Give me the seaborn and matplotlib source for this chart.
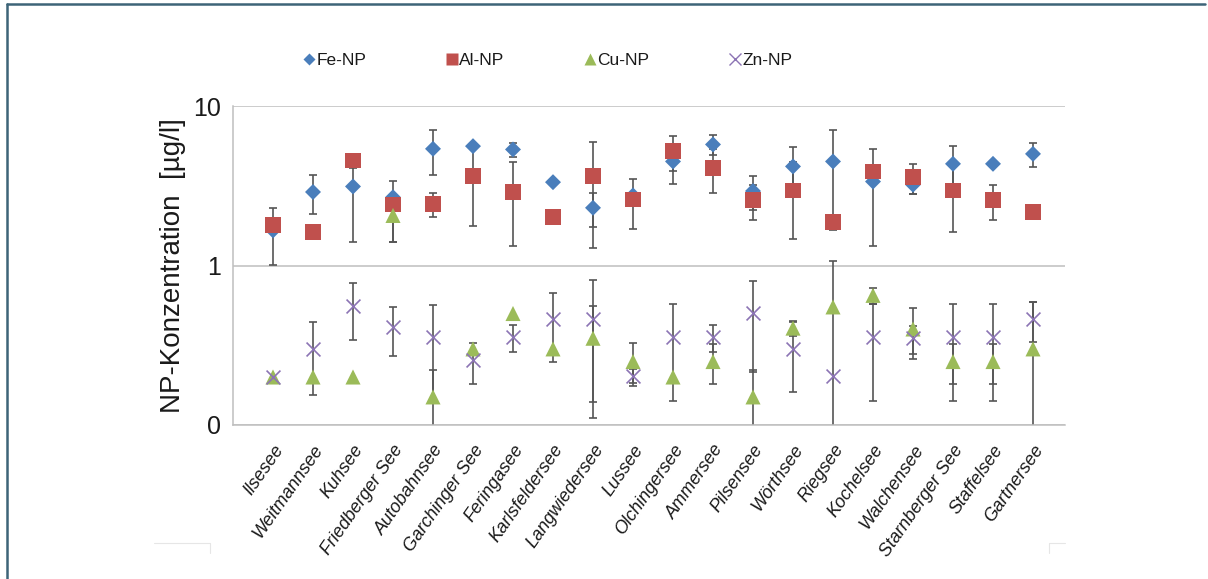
import numpy as np
import pandas as pd
import matplotlib
matplotlib.use("Agg")
import matplotlib.pyplot as plt
from matplotlib.lines import Line2D
from matplotlib.transforms import ScaledTranslation
from matplotlib.ticker import FixedLocator, NullLocator, FuncFormatter
import seaborn as sns

# --- data -------------------------------------------------------------
lakes = ["Ilsesee", "Weitmannsee", "Kuhsee", "Friedberger See", "Autobahnsee",
         "Garchinger See", "Feringasee", "Karlsfeldersee", "Langwiedersee", "Lussee",
         "Olchingersee", "Ammersee", "Pilsensee", "Wörthsee", "Riegsee",
         "Kochelsee", "Walchensee", "Starnberger See", "Staffelsee", "Gartnersee"]

fe = [1.66, 2.89, 3.13, 2.68, 5.39, 5.60, 5.34, 3.33, 2.30, 2.75,
      4.49, 5.74, 2.93, 4.18, 4.49, 3.36, 3.21, 4.34, 4.34, 5.01]
fe_err = [0.65, 0.79, 1.73, 0.00, 1.70, 0.00, 0.55, 0.00, 0.56, 0.00,
          1.24, 0.80, 0.70, 1.35, 2.63, 2.03, 0.42, 1.27, 0.00, 0.85]

al = [1.80, 1.62, 4.55, 2.41, 2.42, 3.64, 2.89, 2.01, 3.64, 2.59,
      5.21, 4.10, 2.56, 2.95, 1.87, 3.88, 3.58, 2.95, 2.56, 2.16]
al_err = [0.00, 0.00, 0.45, 1.00, 0.42, 1.87, 1.56, 0.00, 2.35, 0.90,
          1.32, 1.26, 0.63, 1.48, 0.20, 0.00, 0.76, 1.33, 0.63, 0.12]

cu = [0.20, 0.20, 0.20, 2.06, 0.15, 0.30, 0.50, 0.30, 0.35, 0.25,
      0.20, 0.25, 0.15, 0.405, 0.55, 0.65, 0.40, 0.25, 0.25, 0.30]
cu_err = [0.00, 0.00, 0.00, 0.65, 0.072, 0.00, 0.00, 0.00, 0.21, 0.075,
          0.00, 0.07, 0.072, 0.043, 0.51, 0.075, 0.14, 0.07, 0.07, 0.29]

zn = [0.20, 0.30, 0.56, 0.41, 0.356, 0.254, 0.356, 0.46, 0.46, 0.203,
      0.356, 0.356, 0.505, 0.30, 0.203, 0.356, 0.35, 0.356, 0.356, 0.46]
zn_err = [0.00, 0.145, 0.22, 0.14, 0.21, 0.074, 0.07, 0.21, 0.35, 0.02,
          0.215, 0.07, 0.29, 0.14, 0.00, 0.215, 0.07, 0.215, 0.215, 0.13]

elements = ["Fe-NP", "Al-NP", "Cu-NP", "Zn-NP"]
y_ticks = [0.1, 1, 10]

# --- styling ----------------------------------------------------------
colors = {"Fe-NP": "#4A7EBB", "Al-NP": "#C0504D", "Cu-NP": "#9BBB59", "Zn-NP": "#8C74B4"}
markers = {"Fe-NP": "D", "Al-NP": "s", "Cu-NP": "^", "Zn-NP": "x"}
sizes = {"Fe-NP": 66, "Al-NP": 130, "Cu-NP": 118, "Zn-NP": 100}

sns.set_theme(style="white")
plt.rcParams["font.family"] = ["Liberation Sans", "DejaVu Sans"]

x = np.arange(len(lakes))
frames = []
for name, vals, errs in zip(elements, [fe, al, cu, zn], [fe_err, al_err, cu_err, zn_err]):
    frames.append(pd.DataFrame({"pos": x, "lake": lakes, "element": name,
                                "value": vals, "err": errs}))
df = pd.concat(frames, ignore_index=True)

fig = plt.figure(figsize=(12.08, 5.79), dpi=100)
ax = fig.add_axes([233 / 1208, 1 - 425 / 579, (1065 - 233) / 1208, (425 - 106) / 579])
ax.set_yscale("log", nonpositive="clip")

# error bars first, markers on top
for name in elements:
    sub = df[(df.element == name) & (df.err > 0)]
    ax.errorbar(sub.pos, sub.value, yerr=sub.err, fmt="none", ecolor="#555555",
                elinewidth=1.2, capsize=2.7, capthick=1.2, zorder=2)

for i, name in enumerate(elements):
    sub = df[df.element == name]
    kw = dict(edgecolor="none") if markers[name] != "x" else dict(linewidth=1.2)
    sns.scatterplot(data=sub, x="pos", y="value", marker=markers[name],
                    color=colors[name], s=sizes[name], ax=ax, zorder=3 + i,
                    legend=False, **kw)

ax.set_ylim(0.1, 10)
ax.set_xlim(-1.0, 19.8)
ax.yaxis.set_major_locator(FixedLocator(y_ticks))
ax.yaxis.set_minor_locator(NullLocator())
ax.yaxis.set_major_formatter(FuncFormatter(lambda v, p: f"{v:.0f}"))
ax.grid(axis="y", color="#BFBFBF", linewidth=1.1)
ax.set_axisbelow(True)

ax.set_xticks(x)
ax.set_xticklabels(lakes, rotation=55, ha="right", rotation_mode="anchor",
                   fontsize=13, fontstyle="italic", color="#1A1A1A")
shift = ScaledTranslation(-6 / 100, 0, fig.dpi_scale_trans)
for lbl in ax.get_xticklabels():
    lbl.set_transform(lbl.get_transform() + shift)
ax.tick_params(axis="x", length=0, pad=12)
ax.tick_params(axis="y", length=5, width=1.1, color="#BFBFBF", labelsize=18,
               labelcolor="#1A1A1A", pad=4)

for side in ["top", "right"]:
    ax.spines[side].set_visible(False)
for side in ["left", "bottom"]:
    ax.spines[side].set_color("#BFBFBF")
    ax.spines[side].set_linewidth(1.1)

ax.set_xlabel("")
ax.set_ylabel("NP-Konzentration  [µg/l]", fontsize=20, color="#1A1A1A", labelpad=5)

handles = [Line2D([], [], linestyle="none", marker=markers[n], color=colors[n],
                  markeredgecolor=colors[n] if n == "Zn-NP" else "none",
                  markersize={"Fe-NP": 6.5, "Al-NP": 8.5, "Cu-NP": 8.5, "Zn-NP": 8.5}[n],
                  markeredgewidth=1.0)
           for n in elements]
fig.legend(handles, elements, loc="center", bbox_to_anchor=(548 / 1208, 1 - 60 / 579),
           ncol=4, frameon=False, fontsize=12.5, handlelength=0.6, handletextpad=0.15,
           columnspacing=4.6, labelcolor="#1A1A1A")

# chart frame pieces
fig.add_artist(Line2D([7 / 1208, 7 / 1208], [0, 1 - 4 / 579], transform=fig.transFigure,
                      color="#3D6478", linewidth=1.8))
fig.add_artist(Line2D([7 / 1208, 1 - 3 / 1208], [1 - 4 / 579, 1 - 4 / 579],
                      transform=fig.transFigure, color="#3D6478", linewidth=1.8))
for xs, ys in [([154, 210, 210], [543, 543, 553]), ([1065, 1049, 1049], [543, 543, 553])]:
    fig.add_artist(Line2D([v / 1208 for v in xs], [1 - v / 579 for v in ys],
                          transform=fig.transFigure, color="#E6E6E6", linewidth=0.8))

fig.savefig("out.png", dpi=100)
